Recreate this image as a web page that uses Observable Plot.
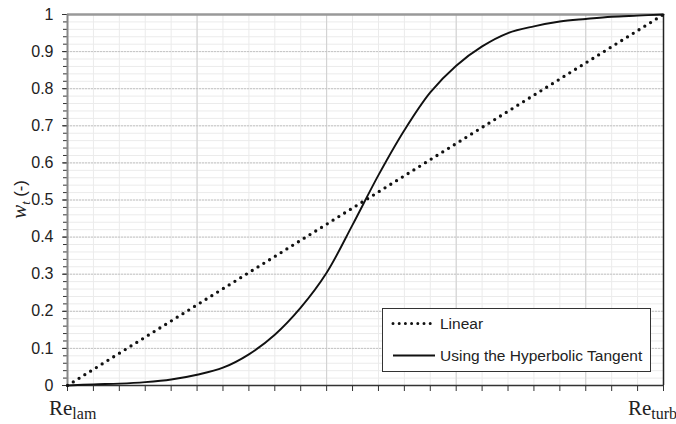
<!DOCTYPE html>
<html>
<head>
<meta charset="utf-8">
<script src="https://cdn.jsdelivr.net/npm/d3@7"></script>
<script src="https://cdn.jsdelivr.net/npm/@observablehq/plot@0.6"></script>
<style>
  html, body { margin: 0; padding: 0; background: #fff; }
  #chart { width: 676px; height: 424px; }
</style>
</head>
<body>
<div id="chart"></div>
<script>
// Reynolds-number steps between Re_lam (0) and Re_turb (23)
const steps = [0, 1, 2, 3, 4, 5, 6, 7, 8, 9, 10, 11, 12, 13, 14, 15, 16, 17, 18, 19, 20, 21, 22, 23];
// Hyperbolic tangent weighting
const tanhW = [0.000, 0.003, 0.005, 0.009, 0.016, 0.029, 0.048, 0.084, 0.137, 0.210, 0.304, 0.433,
               0.567, 0.688, 0.790, 0.862, 0.914, 0.950, 0.968, 0.981, 0.988, 0.994, 0.997, 1.000];
// Linear weighting
const linearX = [0, 23];
const linearW = [0, 1];
// Axis ticks
const yMajor = [0, 0.1, 0.2, 0.3, 0.4, 0.5, 0.6, 0.7, 0.8, 0.9, 1];
const yLabels = ["0", "0.1", "0.2", "0.3", "0.4", "0.5", "0.6", "0.7", "0.8", "0.9", "1"];
const yMinor = d3.range(0, 51).map(i => i / 50);
const xMinor = d3.range(0, 24);
const xMajor = [0, 5, 10, 15, 20];
const seriesNames = ["Linear", "Using the Hyperbolic Tangent"];

const tanhData = steps.map((s, i) => ({x: s, y: tanhW[i]}));
const linData = linearX.map((s, i) => ({x: s, y: linearW[i]}));
const yLabelData = yMajor.map((v, i) => ({y: v, t: yLabels[i]}));

const W = 676, H = 424;
const mL = 67, mR = 13, mT = 14, mB = 39;
const sans = "'Liberation Sans', Arial, sans-serif";
const serif = "'Liberation Serif', 'DejaVu Serif', serif";

const chart = Plot.plot({
  width: W,
  height: H,
  marginLeft: mL,
  marginRight: mR,
  marginTop: mT,
  marginBottom: mB,
  style: {fontFamily: sans, fontSize: "15px", color: "#222", background: "#fff"},
  x: {domain: [0, 23], label: null},
  y: {domain: [0, 1], label: null},
  marks: [
    Plot.gridX(xMinor, {stroke: "#ebebeb", strokeOpacity: 1, strokeWidth: 1}),
    Plot.gridY(yMinor, {stroke: "#ebebeb", strokeOpacity: 1, strokeWidth: 1}),
    Plot.gridX(xMajor, {stroke: "#cfcfcf", strokeOpacity: 1, strokeWidth: 1}),
    Plot.gridY(yMajor, {stroke: "#c4c4c4", strokeOpacity: 1, strokeWidth: 1, strokeDasharray: "2,1"}),
    Plot.axisY(yMinor, {tickSize: 4, tickFormat: () => "", stroke: "#333", label: null}),
    Plot.axisY(yMajor, {tickSize: 5, tickFormat: () => "", stroke: "#333", label: null}),
    Plot.text(yLabelData, {y: "y", text: "t", frameAnchor: "left", dx: -14, textAnchor: "end",
      fontSize: 16, fill: "#222", fontFamily: sans}),
    Plot.axisX(xMinor, {tickSize: 6, tickFormat: () => "", stroke: "#333", label: null}),
    Plot.ruleY([1], {stroke: "#999", strokeWidth: 2.5}),
    Plot.ruleX([0], {stroke: "#888", strokeWidth: 2}),
    Plot.ruleX([23], {stroke: "#222", strokeWidth: 1.5}),
    Plot.ruleY([0], {stroke: "#333", strokeWidth: 1.5}),
    Plot.line(linData, {x: "x", y: "y", stroke: "#111", strokeWidth: 3.3, strokeDasharray: "0,6.8", strokeLinecap: "round"}),
    Plot.line(tanhData, {x: "x", y: "y", stroke: "#111", strokeWidth: 1.9, curve: "catmull-rom"})
  ]
});

document.getElementById("chart").appendChild(chart);

const svg = d3.select(chart);

// y-axis label: w_t (-)
const yl = svg.append("text")
  .attr("transform", `translate(26,${(mT + H - mB) / 2}) rotate(-90)`)
  .attr("text-anchor", "middle")
  .attr("fill", "#222")
  .style("font-family", sans)
  .style("font-size", "16.5px");
yl.append("tspan").style("font-family", serif).style("font-style", "italic").style("font-size", "21px").text("w");
yl.append("tspan").style("font-family", serif).style("font-style", "italic").attr("dy", 4).style("font-size", "13px").text("t");
yl.append("tspan").attr("dy", -4).text(" (-)");

// x-axis end labels
function reLabel(x, anchor, sub) {
  const t = svg.append("text")
    .attr("x", x).attr("y", 415)
    .attr("text-anchor", anchor)
    .style("font-family", serif)
    .attr("fill", "#222")
    .style("font-size", "21px");
  t.append("tspan").text("Re");
  t.append("tspan").attr("dy", 4).style("font-size", "16px").text(sub);
}
reLabel(49, "start", "lam");
reLabel(677, "end", "turb");

// legend
const lg = svg.append("g");
lg.append("rect").attr("x", 382.5).attr("y", 308.5).attr("width", 268).attr("height", 63)
  .attr("fill", "#fff").attr("stroke", "#333").attr("stroke-width", 1);
lg.append("line").attr("x1", 393).attr("x2", 433).attr("y1", 323.5).attr("y2", 323.5)
  .attr("stroke", "#111").attr("stroke-width", 3).attr("stroke-dasharray", "0,6.2").attr("stroke-linecap", "round");
lg.append("line").attr("x1", 393).attr("x2", 435).attr("y1", 355.5).attr("y2", 355.5)
  .attr("stroke", "#111").attr("stroke-width", 1.8);
lg.append("text").attr("x", 440).attr("y", 329).attr("text-anchor", "start").attr("fill", "#222")
  .style("font-family", sans).style("font-size", "15.5px").text(seriesNames[0]);
lg.append("text").attr("x", 440).attr("y", 361).attr("text-anchor", "start").attr("fill", "#222")
  .style("font-family", sans).style("font-size", "15.5px").text(seriesNames[1]);
</script>
</body>
</html>
